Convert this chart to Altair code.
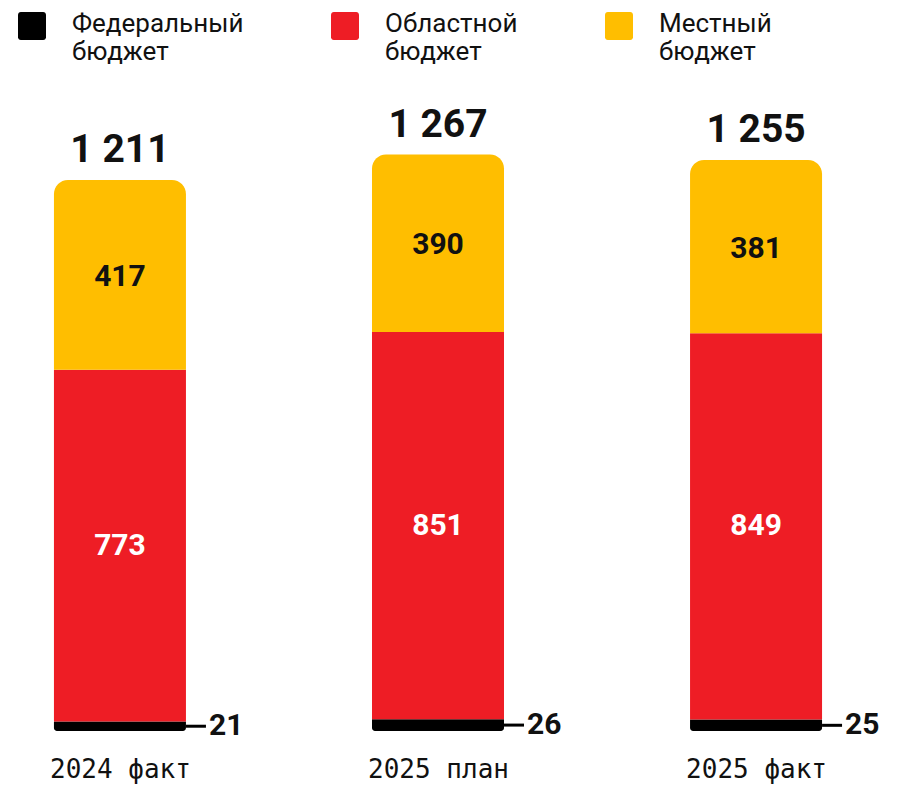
import altair as alt
import pandas as pd

years = ["2024 факт", "2025 план", "2025 факт"]
federal = [21, 26, 25]
regional = [773, 851, 849]
local = [417, 390, 381]
totals = [1211, 1267, 1255]
budgets = ["Федеральный бюджет", "Областной бюджет", "Местный бюджет"]
colors = ["#000000", "#EE1D25", "#FFBE00"]

rows = []
for i, yr in enumerate(years):
    start = 0
    for b, vals in zip(budgets, [federal, regional, local]):
        v = vals[i]
        rows.append(dict(year=yr, budget=b, value=v, start=start, end=start + v, mid=start + v / 2))
        start += v
df = pd.DataFrame(rows)
tot = pd.DataFrame({"year": years, "total": totals,
                    "label": [f"{t:,}".replace(",", "\u00a0") for t in totals]})

xenc = alt.X(
    "year:N",
    scale=alt.Scale(type="point", padding=0.352, domain=years),
    axis=alt.Axis(title=None, domain=False, ticks=False, grid=False, labelAngle=0,
                  labelFont="DejaVu Sans Mono", labelFontSize=26, labelColor="#111111",
                  labelPadding=25),
)
yscale = alt.Scale(domain=[0, 1589], nice=False, zero=True)

# rounded square, shifted downward relative to the label anchor
sym = ("M-0.8,-0.86L0.8,-0.86A0.2,0.2,0,0,1,1,-0.66L1,0.94A0.2,0.2,0,0,1,0.8,1.14"
       "L-0.8,1.14A0.2,0.2,0,0,1,-1,0.94L-1,-0.66A0.2,0.2,0,0,1,-0.8,-0.86Z")

color = alt.Color(
    "budget:N",
    scale=alt.Scale(domain=budgets, range=colors),
    legend=alt.Legend(
        orient="none", legendX=10, legendY=2, direction="horizontal", title=None,
        symbolType=sym, symbolSize=784, symbolStrokeWidth=0, symbolOpacity=1,
        labelFont="Roboto", labelFontSize=26, labelColor="#111111",
        labelExpr="split(datum.label, ' ')", labelOffset=26, labelLimit=400,
        labelBaseline="middle", columnPadding=86,
    ),
)

base = alt.Chart(df)

fed_bar = base.transform_filter(alt.datum.budget == budgets[0]).mark_bar(
    size=132, cornerRadiusBottomLeft=3, cornerRadiusBottomRight=3
).encode(x=xenc, y=alt.Y("start:Q", scale=yscale, axis=None), y2="end:Q", color=color)

reg_bar = base.transform_filter(alt.datum.budget == budgets[1]).mark_bar(
    size=132
).encode(x=xenc, y=alt.Y("start:Q", scale=yscale, axis=None), y2="end:Q", color=color)

loc_bar = base.transform_filter(alt.datum.budget == budgets[2]).mark_bar(
    size=132, cornerRadiusTopLeft=14, cornerRadiusTopRight=14
).encode(x=xenc, y=alt.Y("start:Q", scale=yscale, axis=None), y2="end:Q", color=color)

loc_text = base.transform_filter(alt.datum.budget == budgets[2]).mark_text(
    font="Roboto", fontSize=30, fontWeight="bold", color="#111111", baseline="middle", dy=2
).encode(x=xenc, y=alt.Y("mid:Q", scale=yscale), text="value:Q")

reg_text = base.transform_filter(alt.datum.budget == budgets[1]).mark_text(
    font="Roboto", fontSize=30, fontWeight="bold", color="#ffffff", baseline="middle"
).encode(x=xenc, y=alt.Y("mid:Q", scale=yscale), text="value:Q")

fed_rule = base.transform_filter(alt.datum.budget == budgets[0]).mark_rule(
    xOffset=66, x2Offset=86, strokeWidth=3, color="#000000"
).encode(x=xenc, x2="year:N", y=alt.Y("mid:Q", scale=yscale))

fed_text = base.transform_filter(alt.datum.budget == budgets[0]).mark_text(
    font="Roboto", fontSize=30, fontWeight="bold", color="#111111", baseline="middle",
    align="left", dx=89
).encode(x=xenc, y=alt.Y("mid:Q", scale=yscale), text="value:Q")

tot_text = alt.Chart(tot).mark_text(
    font="Roboto", fontSize=39, fontWeight="bold", color="#111111", baseline="alphabetic", dy=-18
).encode(x=xenc, y=alt.Y("total:Q", scale=yscale), text="label:N")

chart = alt.layer(
    fed_bar, reg_bar, loc_bar, loc_text, reg_text, fed_rule, fed_text, tot_text
).properties(
    width=860, height=723,
    autosize=alt.AutoSizeParams(type="none"),
    padding={"left": 0, "top": 0, "right": 27, "bottom": 57},
).configure(background="#ffffff").configure_view(stroke=None, strokeWidth=0)

chart.save("out.html", embed_options={"renderer": "svg", "actions": False})
